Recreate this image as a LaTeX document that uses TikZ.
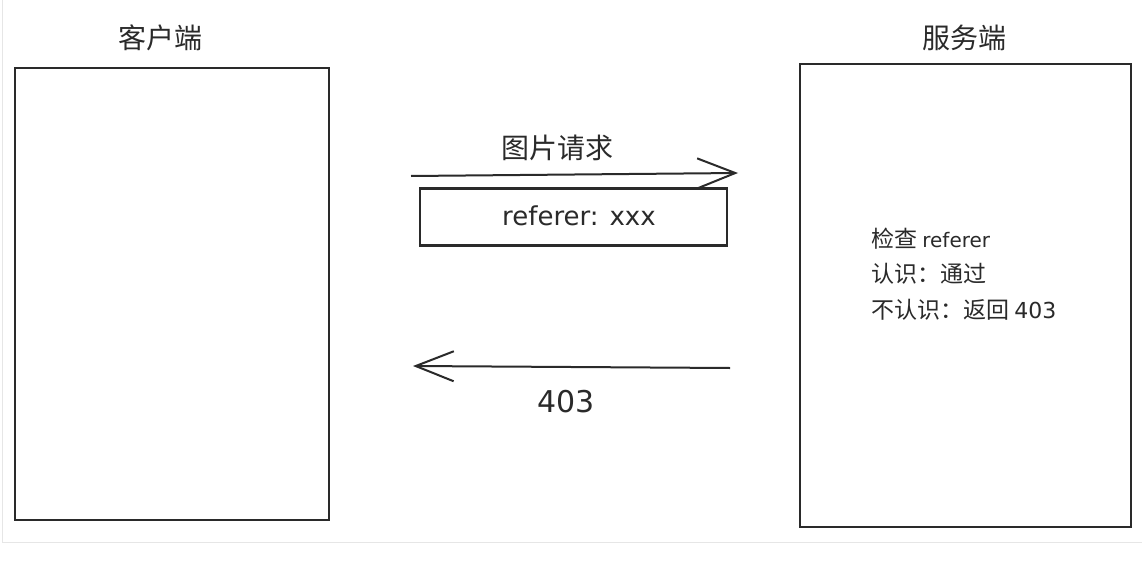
\documentclass[tikz,border=0pt]{standalone}
\usepackage{fontspec}
\setmainfont{DejaVu Sans}
\newfontfamily\cjk{Noto Sans CJK SC}
\usetikzlibrary{arrows.meta}
\definecolor{ink}{HTML}{2A2A2A}
\definecolor{frame}{HTML}{E6E6E6}
\tikzset{
  sketchbox/.style={draw=ink, line width=2.2pt, fill=white, inner sep=0pt},
  arr/.style={draw=ink, line width=2pt, -{Straight Barb[length=38pt,width=30pt,line width=2pt]}},
  title/.style={font=\cjk\fontsize{28}{32}\selectfont, text=ink, inner sep=0pt},
  hand/.style={font=\fontsize{26}{30}\selectfont, text=ink, inner sep=0pt},
  bignum/.style={font=\fontsize{30}{34}\selectfont, text=ink, inner sep=0pt},
  note/.style={font=\cjk\fontsize{23}{27}\selectfont, text=ink, inner sep=0pt, anchor=west},
}
\begin{document}
\begin{tikzpicture}[x=1pt,y=-1pt]
\useasboundingbox (0,0) rectangle (1142,575);
\fill[white] (0,0) rectangle (1142,575);
% faint frame
\draw[frame, line width=1pt] (2,0) -- (2,542) -- (1142,542);

% client
\node[title] (clientlabel) at (160,38) {客户端};
\node[sketchbox, minimum width=314pt, minimum height=452pt] (client) at (172,294) {};

% server
\node[title] (serverlabel) at (964,38) {服务端};
\node[sketchbox, minimum width=331pt, minimum height=463pt] (server) at (965.5,295.5) {};

% request arrow
\coordinate (reqstart) at (411,176);
\coordinate (reqend) at (738,173);
\draw[arr] (reqstart) -- (reqend);
\node[title] (reqlabel) at (557,148) {图片请求};

% referer box
\node[sketchbox, minimum width=307pt, minimum height=57pt] (refbox) at (573.5,217) {};
\node[hand] (reftext) at (579,216) {referer: xxx};

% response arrow
\coordinate (respstart) at (730,368);
\coordinate (respend) at (413,366);
\draw[arr] (respstart) -- (respend);
\node[bignum] (resplabel) at (566,402) {403};

% server notes
\node[note] (n1) at (871,239) {检查 {\rmfamily\fontsize{20}{24}\selectfont referer}};
\node[note] (n2) at (871,274) {认识：通过};
\node[note] (n3) at (871,310) {不认识：返回 {\rmfamily\fontsize{22}{26}\selectfont 403}};
\end{tikzpicture}
\end{document}
